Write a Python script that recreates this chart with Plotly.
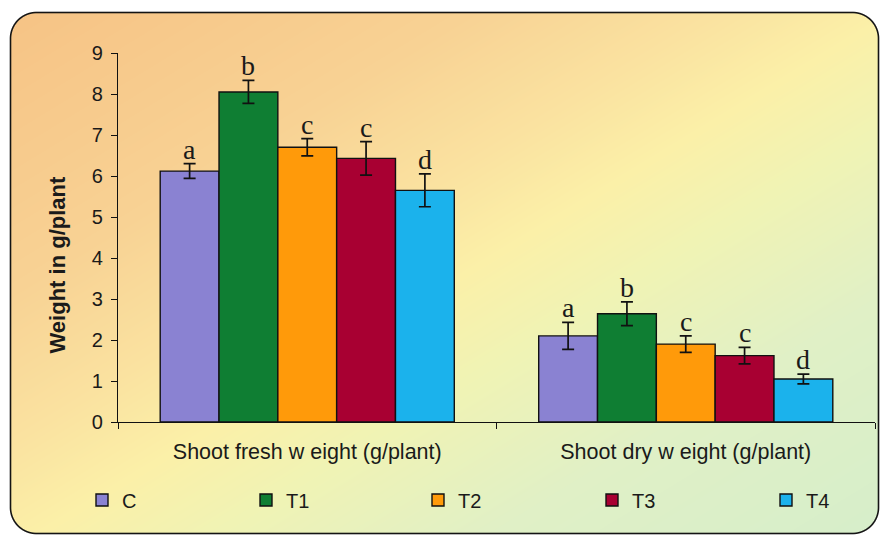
import base64, struct, zlib
import numpy as np
import plotly.graph_objects as go

# ---------------- data ----------------
categories = ["Shoot fresh w eight (g/plant)", "Shoot dry w eight (g/plant)"]
series_names = ["C", "T1", "T2", "T3", "T4"]
means = {
    "C":  [6.12, 2.10],
    "T1": [8.05, 2.64],
    "T2": [6.70, 1.90],
    "T3": [6.43, 1.62],
    "T4": [5.65, 1.05],
}
errors = {
    "C":  [0.18, 0.33],
    "T1": [0.28, 0.29],
    "T2": [0.21, 0.20],
    "T3": [0.41, 0.20],
    "T4": [0.40, 0.12],
}
letters = {
    "C":  ["a", "a"],
    "T1": ["b", "b"],
    "T2": ["c", "c"],
    "T3": ["c", "c"],
    "T4": ["d", "d"],
}
colors = ["#8A82D2", "#0F7E33", "#FF9A0A", "#A80032", "#1BB2EC"]
y_ticks = list(range(0, 10))

# ---------------- layout geometry ----------------
W, H = 880, 536
ML, MR, MT, MB = 118, 5, 53, 114
PW, PH = W - ML - MR, H - MT - MB
BARGAP = 0.223
LEGEND_MARKER_X = [102, 266, 438, 612, 786]   # pixel centre of each legend swatch
LEGEND_Y = 500


# ---------------- background (gradient + rounded frame) ----------------
def make_background():
    ys, xs = np.mgrid[0:H, 0:W].astype(float)
    xs += 0.5
    ys += 0.5
    s = (xs / W + ys / H) / 2.0
    stops = [0.0, 0.28, 0.42, 0.52, 0.62, 0.78, 1.0]
    cols = np.array([
        [246, 194, 132],
        [248, 210, 148],
        [250, 226, 160],
        [251, 240, 168],
        [240, 243, 180],
        [224, 240, 198],
        [214, 238, 202],
    ], dtype=float)
    rgb = np.zeros((H, W, 3))
    for c in range(3):
        rgb[..., c] = np.interp(s, stops, cols[:, c])
    x0, y0, x1, y1, r = 10.5, 12.5, 878.5, 533.5, 26.0
    cx, cy = (x0 + x1) / 2, (y0 + y1) / 2
    hx, hy = (x1 - x0) / 2, (y1 - y0) / 2
    qx = np.abs(xs - cx) - (hx - r)
    qy = np.abs(ys - cy) - (hy - r)
    d = np.hypot(np.maximum(qx, 0), np.maximum(qy, 0)) + np.minimum(np.maximum(qx, qy), 0) - r
    fill_a = np.clip(0.5 - d, 0, 1)
    line_a = np.clip(1.3 - np.abs(d), 0, 1)
    alpha = np.maximum(fill_a, line_a)
    line_col = np.array([20, 20, 20], dtype=float)
    mix = np.where(alpha > 0, line_a / np.maximum(alpha, 1e-6), 0)
    out_rgb = rgb * (1 - mix[..., None]) + line_col * mix[..., None]
    img = np.dstack([out_rgb, alpha[..., None] * 255]).round().clip(0, 255).astype(np.uint8)
    filt = img.astype(np.int16)
    filt[:, 1:, :] = (img[:, 1:, :].astype(np.int16) - img[:, :-1, :].astype(np.int16)) % 256
    filt = filt.astype(np.uint8).reshape(H, W * 4)
    raw = np.hstack([np.ones((H, 1), dtype=np.uint8), filt]).tobytes()

    def chunk(tag, data):
        c = struct.pack(">I", len(data)) + tag + data
        return c + struct.pack(">I", zlib.crc32(tag + data) & 0xFFFFFFFF)

    png = b"\x89PNG\r\n\x1a\n"
    png += chunk(b"IHDR", struct.pack(">IIBBBBB", W, H, 8, 6, 0, 0, 0))
    png += chunk(b"IDAT", zlib.compress(raw, 9))
    png += chunk(b"IEND", b"")
    return "data:image/png;base64," + base64.b64encode(png).decode()


FONT = "Liberation Sans, Arial, sans-serif"
SERIF = "Liberation Serif, Times New Roman, serif"
TXT = "#1a1a1a"

fig = go.Figure()
legend_ids = ["legend"] + [f"legend{k}" for k in range(2, len(series_names) + 1)]
for name, col, lid in zip(series_names, colors, legend_ids):
    fig.add_trace(go.Bar(
        name=name,
        x=categories,
        y=means[name],
        legend=lid,
        marker=dict(color=col, line=dict(color="#111111", width=1.4)),
        error_y=dict(type="data", array=errors[name], visible=True,
                     color="#111111", thickness=1.7, width=6),
    ))

# significance letters above error bars
n = len(series_names)
bw = (1 - BARGAP) / n
for i, name in enumerate(series_names):
    off = (i - (n - 1) / 2) * bw
    for ci in range(len(categories)):
        fig.add_annotation(
            x=ci + off, y=means[name][ci] + errors[name][ci],
            xref="x", yref="y", text=letters[name][ci], showarrow=False,
            yanchor="bottom", yshift=-3,
            font=dict(family=SERIF, size=28, color=TXT),
        )

# y-axis title
fig.add_annotation(
    x=(42 - ML) / PW, y=(H - MB - 265) / PH, xref="paper", yref="paper",
    text="<b>Weight in g/plant</b>", textangle=-90, showarrow=False,
    font=dict(family=FONT, size=22, color=TXT),
)

fig.add_layout_image(dict(
    source=make_background(), xref="paper", yref="paper",
    x=-ML / PW, y=1 + MT / PH, sizex=W / PW, sizey=H / PH,
    xanchor="left", yanchor="top", sizing="stretch", layer="below",
))

legend_layouts = {}
for lid, mx in zip(legend_ids, LEGEND_MARKER_X):
    legend_layouts[lid] = dict(
        orientation="h", x=(mx - 20 - ML) / PW, xanchor="left",
        y=(H - MB - LEGEND_Y) / PH, yanchor="middle",
        bgcolor="rgba(0,0,0,0)", borderwidth=0,
        font=dict(family=FONT, size=20, color=TXT),
    )

fig.update_layout(
    width=W, height=H,
    margin=dict(l=ML, r=MR, t=MT, b=MB, autoexpand=False),
    paper_bgcolor="white", plot_bgcolor="rgba(0,0,0,0)",
    barmode="group", bargap=BARGAP, bargroupgap=0,
    font=dict(family=FONT, size=20, color=TXT),
    showlegend=True,
    **legend_layouts,
)
fig.update_xaxes(
    type="category", showline=True, linecolor="#111111", linewidth=1.3,
    ticks="outside", tickson="boundaries", ticklen=6, tickcolor="#111111",
    tickwidth=1.3, showgrid=False, ticklabelstandoff=10,
    tickfont=dict(family=FONT, size=21.5, color=TXT),
)
fig.update_yaxes(
    range=[0, 9], tickvals=y_ticks, showline=True, linecolor="#111111",
    linewidth=1.3, ticks="outside", ticklen=6, tickcolor="#111111", tickwidth=1.3,
    showgrid=False, zeroline=False, ticklabelstandoff=4,
    tickfont=dict(family=FONT, size=20, color=TXT),
)

fig.write_html(
    "out.html",
    config={"displayModeBar": False},
    post_script="document.body.style.margin='0';document.body.style.overflow='hidden';",
)
